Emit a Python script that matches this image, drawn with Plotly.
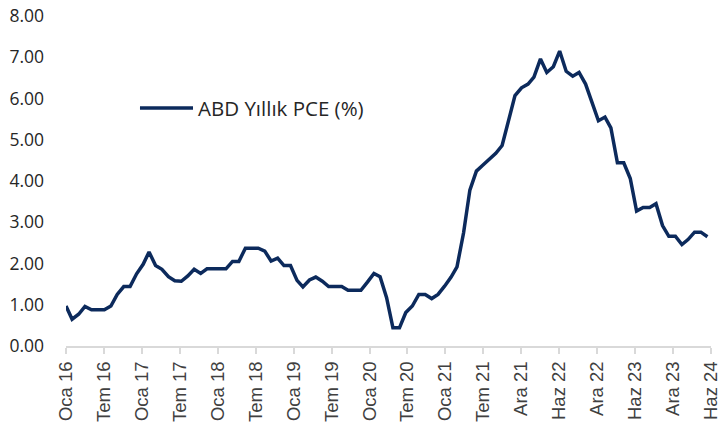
import datetime as dt
import pandas as pd
import plotly.graph_objects as go

# Monthly US PCE YoY (%), Jan 2016 - May 2024 (month-end dates)
start_month = "2016-01-01"
n_months = 101
pce_values = [
    0.97, 0.65, 0.77, 0.96, 0.88, 0.88, 0.88, 0.97, 1.25, 1.44, 1.44, 1.75,   # 2016
    1.98, 2.28, 1.95, 1.86, 1.68, 1.58, 1.57, 1.70, 1.86, 1.76, 1.87, 1.87,   # 2017
    1.87, 1.87, 2.05, 2.05, 2.37, 2.37, 2.37, 2.30, 2.06, 2.13, 1.95, 1.95,   # 2018
    1.59, 1.43, 1.60, 1.67, 1.57, 1.44, 1.44, 1.44, 1.35, 1.35, 1.35, 1.55,   # 2019
    1.76, 1.68, 1.17, 0.44, 0.44, 0.81, 0.97, 1.25, 1.25, 1.15, 1.25, 1.45,   # 2020
    1.67, 1.92, 2.74, 3.78, 4.24, 4.38, 4.54, 4.67, 4.86, 5.45, 6.07, 6.26,   # 2021
    6.35, 6.52, 6.96, 6.63, 6.77, 7.15, 6.66, 6.54, 6.63, 6.35, 5.90, 5.46,   # 2022
    5.55, 5.29, 4.44, 4.44, 4.06, 3.27, 3.36, 3.36, 3.45, 2.92, 2.66, 2.66,   # 2023
    2.46, 2.58, 2.76, 2.76, 2.65,                                             # 2024
]
series_name = "ABD Yıllık PCE (%)"
tr_months = ["Oca", "Şub", "Mar", "Nis", "May", "Haz",
             "Tem", "Ağu", "Eyl", "Eki", "Kas", "Ara"]
y_ticks = [0, 1, 2, 3, 4, 5, 6, 7, 8]
tick_step_days = 180
n_ticks = 18

dates = pd.date_range(start=start_month, periods=n_months, freq="MS") + pd.offsets.MonthEnd(0)
dates = [d.to_pydatetime() for d in dates]

tick_dates = [dates[0] + dt.timedelta(days=tick_step_days * k) for k in range(n_ticks)]
tick_text = [f"{tr_months[d.month - 1]} {d.year % 100:02d}" for d in tick_dates]

fig = go.Figure()
fig.add_trace(go.Scatter(
    x=dates, y=pce_values, mode="lines", name=series_name,
    line=dict(color="#0C2A5C", width=3.5), showlegend=False,
))

# legend drawn as line sample + text
fig.add_shape(type="line", xref="paper", yref="paper",
              x0=0.1147, x1=0.1969, y0=0.7215, y1=0.7215,
              line=dict(color="#0C2A5C", width=3.5))
fig.add_annotation(xref="paper", yref="paper", x=0.201, y=0.7215,
                   text=series_name, showarrow=False, xanchor="left", yanchor="middle",
                   font=dict(family="Open Sans", size=20.5, color="#262626"))

fig.update_layout(
    width=723, height=431,
    margin=dict(l=66, r=12, t=16, b=85),
    paper_bgcolor="white", plot_bgcolor="white",
)
fig.update_xaxes(
    type="date", range=[tick_dates[0], tick_dates[-1]], automargin=False,
    tickmode="array", tickvals=tick_dates, ticktext=tick_text,
    tickangle=-90, showgrid=False, zeroline=False,
    showline=True, linecolor="#D9D9D9", linewidth=2,
    ticks="outside", ticklen=6, tickcolor="#D9D9D9", tickwidth=1.5,
    tickfont=dict(family="Liberation Sans, Arial", size=18.5, color="#404040"),
)
fig.update_yaxes(
    range=[0, 8], tickmode="array", tickvals=y_ticks, automargin=False,
    tickformat=".2f", showgrid=False, zeroline=False, showline=False,
    ticklabelstandoff=21,
    tickfont=dict(family="Open Sans", size=17.5, color="#262626"),
)

fig.write_html(
    "out.html",
    config={"displayModeBar": False},
    post_script="document.body.style.margin='0';document.body.style.overflow='hidden';",
)
